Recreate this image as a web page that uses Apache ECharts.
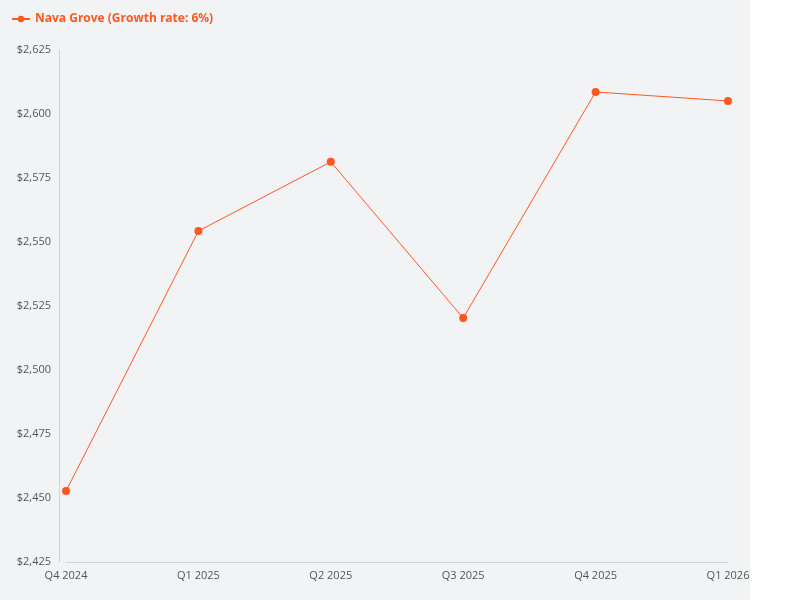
<!DOCTYPE html>
<html>
<head>
<meta charset="utf-8">
<script src="https://cdn.jsdelivr.net/npm/echarts@6/dist/echarts.min.js"></script>
<style>
html,body{margin:0;padding:0;}
#main{width:800px;height:600px;background:linear-gradient(to right,#f2f3f5 750px,#ffffff 750px);}
</style>
</head>
<body>
<div id="main"></div>
<script>
var quarters = ['Q4 2024', 'Q1 2025', 'Q2 2025', 'Q3 2025', 'Q4 2025', 'Q1 2026'];
var values = [2452.7, 2554.3, 2581.3, 2520.3, 2608.6, 2605.1];
var seriesName = 'Nava Grove (Growth rate: 6%)';

var chart = echarts.init(document.getElementById('main'));
var option = {
    backgroundColor: 'transparent',
    textStyle: {fontFamily: 'Open Sans'},
    legend: {
        left: 6,
        top: 8,
        data: [seriesName],
        itemWidth: 18,
        itemHeight: 8,
        textStyle: {color: '#ff5722', fontWeight: 'bold', fontSize: 12}
    },
    grid: {left: 66, right: 72, top: 50, bottom: 38},
    xAxis: {
        type: 'category',
        data: quarters,
        boundaryGap: false,
        axisLine: {lineStyle: {color: '#c8d3e0'}},
        axisTick: {show: false},
        axisLabel: {color: '#555', fontSize: 11}
    },
    yAxis: {
        type: 'value',
        min: 2425,
        max: 2625,
        interval: 25,
        offset: 7,
        axisLine: {show: true, lineStyle: {color: '#c8d3e0'}},
        splitLine: {show: false},
        axisLabel: {
            color: '#555',
            fontSize: 11,
            formatter: function (v) { return '$' + v.toLocaleString('en-US'); }
        }
    },
    series: [{
        name: seriesName,
        type: 'line',
        data: values,
        symbol: 'circle',
        symbolSize: 8,
        itemStyle: {color: '#ff5722'},
        lineStyle: {width: 1, color: '#ff5722'}
    }]
};
chart.setOption(option);
</script>
</body>
</html>
